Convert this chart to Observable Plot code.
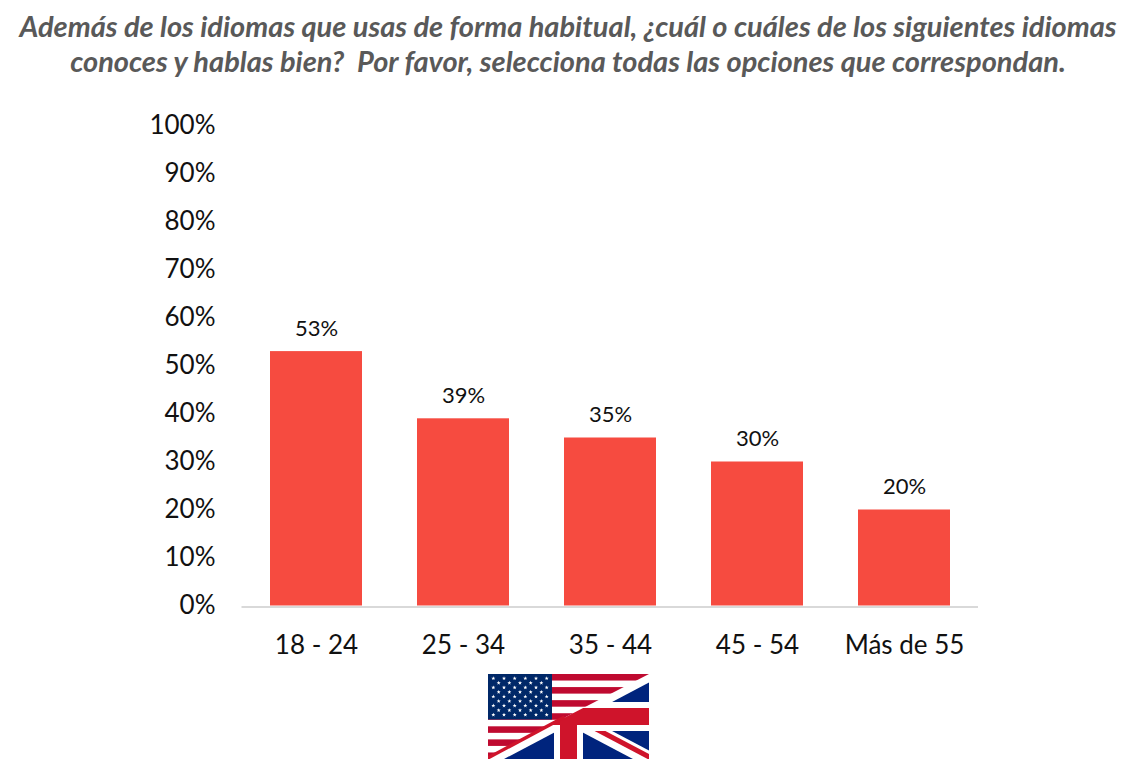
<!DOCTYPE html>
<html lang="es">
<head>
<meta charset="utf-8">
<script src="https://cdn.jsdelivr.net/npm/d3@7"></script>
<script src="https://cdn.jsdelivr.net/npm/@observablehq/plot@0.6"></script>
<style>
  html,body{margin:0;padding:0;background:#fff;width:1144px;height:759px;overflow:hidden}
  #wrap{position:relative;width:1144px;height:759px;font-family:Lato,sans-serif}
  #title{position:absolute;left:0;top:8px;width:1136px;text-align:center;font:italic 700 29px/35px Lato,sans-serif;color:#595959;white-space:nowrap}
  #chart{position:absolute;left:0;top:90px}
  #chart svg{display:block}
  #flag{position:absolute;left:488px;top:674px}
</style>
</head>
<body>
<div id="wrap">
  <div id="title"></div>
  <div id="chart"></div>
  <div id="flag"></div>
</div>
<script>
const titleLines = [
  "Además de los idiomas que usas de forma habitual, ¿cuál o cuáles de los siguientes idiomas",
  "conoces y hablas bien?  Por favor, selecciona todas las opciones que correspondan."
];
const categories = ["18 - 24", "25 - 34", "35 - 44", "45 - 54", "Más de 55"];
const values = [53, 39, 35, 30, 20];
const yTicks = [0, 10, 20, 30, 40, 50, 60, 70, 80, 90, 100];

document.getElementById("title").innerHTML = titleLines.map(t => t.replace(/  /g, " \u00a0")).join("<br>");

const rows = categories.map((c, i) => ({category: c, value: values[i]}));

const chart = Plot.plot({
  width: 1144, height: 669,
  marginTop: 35.5, marginBottom: 153.5, marginLeft: 241.5, marginRight: 166,
  style: {fontFamily: "Lato, sans-serif", background: "#fff", color: "#111"},
  x: {domain: categories, paddingInner: 0.375, paddingOuter: 0.1875, label: null},
  y: {domain: [0, 100], label: null},
  marks: [
    Plot.axisY({ticks: yTicks, tickFormat: d => d + "%", tickSize: 0, tickPadding: 26.5, fontSize: 26, label: null, fill: "#111"}),
    Plot.axisX({tickSize: 0, tickPadding: 30, fontSize: 26, label: null, fill: "#111"}),
    Plot.barY(rows, {x: "category", y: "value", fill: "#F64B40"}),
    Plot.ruleY([0], {stroke: "#D9D9D9", strokeWidth: 2, dy: 1}),
    Plot.text(rows, {x: "category", y: "value", text: d => d.value + "%", dy: -23, fontSize: 22, fill: "#111"})
  ]
});
document.getElementById("chart").append(chart);

// Decorative US/UK flag (a picture in the original), drawn as SVG.
const W = 161, H = 85, cx = 80.5, cy = 42.5;
const navy = "#00247D", red = "#CF142B", usRed = "#BF0A30", usNavy = "#002868";
let s = `<svg xmlns="http://www.w3.org/2000/svg" width="${W}" height="${H}" viewBox="0 0 ${W} ${H}" role="img" aria-label="Bandera de Estados Unidos y Reino Unido">`;
s += `<rect width="${W}" height="${H}" fill="${navy}"/>`;
s += `<line x1="0" y1="${H}" x2="${W}" y2="0" stroke="#fff" stroke-width="15"/>`;
s += `<line x1="0" y1="0" x2="${W}" y2="${H}" stroke="#fff" stroke-width="15"/>`;
s += `<line x1="${cx}" y1="${cy+1}" x2="${W}" y2="${H+1}" stroke="${red}" stroke-width="5" transform="translate(4,-1)"/>`;
s += `<rect x="${cx-14.5}" y="0" width="29" height="${H}" fill="#fff"/>`;
s += `<rect y="${cy-14.5}" width="${W}" height="29" fill="#fff"/>`;
s += `<rect x="${cx-8.5}" y="0" width="17" height="${H}" fill="${red}"/>`;
s += `<rect y="${cy-8.5}" width="${W}" height="17" fill="${red}"/>`;
s += `<clipPath id="us"><polygon points="0,0 ${W},0 0,${H-2}"/></clipPath>`;
s += `<g clip-path="url(#us)"><rect width="${W}" height="${H}" fill="#fff"/>`;
for (let i = 0; i < 13; i += 2) s += `<rect y="${i*H/13}" width="${W}" height="${H/13}" fill="${usRed}"/>`;
s += `<rect width="64" height="45.5" fill="${usNavy}"/></g>`;
s += `<line x1="${cx-4}" y1="${cy+0.5}" x2="-4" y2="${H+1}" stroke="${red}" stroke-width="3.5"/>`;
const star = (x, y, r) => {
  const p = [];
  for (let k = 0; k < 10; k++) {
    const a = -Math.PI/2 + k*Math.PI/5, q = k % 2 ? r*0.42 : r;
    p.push((x + q*Math.cos(a)).toFixed(2) + "," + (y + q*Math.sin(a)).toFixed(2));
  }
  return `<polygon points="${p.join(" ")}" fill="#fff"/>`;
};
for (let row = 0; row < 9; row++) {
  const n = row % 2 ? 5 : 6, x0 = row % 2 ? 10.67 : 5.33;
  for (let c = 0; c < n; c++) s += star(x0 + c*10.67, 4.4 + row*4.55, 2.1);
}
s += `</svg>`;
document.getElementById("flag").innerHTML = s;
</script>
</body>
</html>
